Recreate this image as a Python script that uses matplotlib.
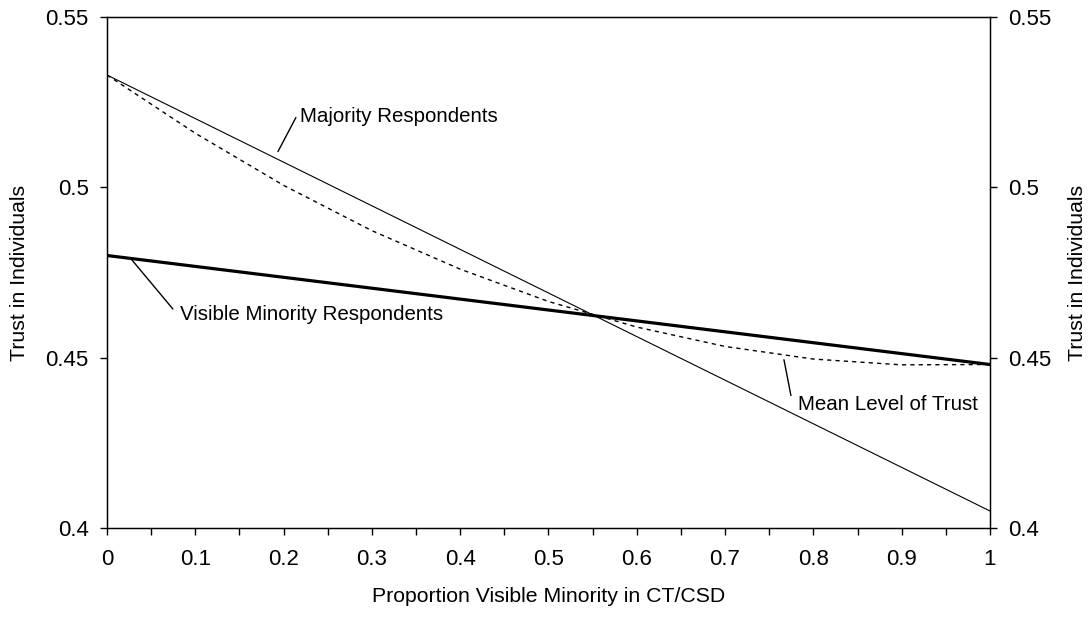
import matplotlib
matplotlib.use("Agg")
import matplotlib.pyplot as plt
from matplotlib.ticker import MultipleLocator, FormatStrFormatter

plt.rcParams["font.family"] = ["Liberation Sans", "DejaVu Sans"]

# proportion visible minority
prop = [0.0, 0.1, 0.2, 0.3, 0.4, 0.5, 0.6, 0.7, 0.8, 0.9, 1.0]

# trust levels
majority = [0.533, 0.5202, 0.5074, 0.4946, 0.4818, 0.469, 0.4562, 0.4434, 0.4306, 0.4178, 0.405]
minority = [0.480, 0.4768, 0.4736, 0.4704, 0.4672, 0.464, 0.4608, 0.4576, 0.4544, 0.4512, 0.448]
mean_trust = [0.533, 0.5159, 0.5006, 0.4873, 0.4760, 0.4665, 0.4590, 0.4533, 0.4496, 0.4479, 0.448]

fig = plt.figure(figsize=(10.91, 6.17), dpi=100)
ax = fig.add_axes([0.098, 0.1442, 0.8094, 0.8282])

ax.plot(prop, majority, color="black", lw=0.8)
ax.plot(prop, minority, color="black", lw=2.3)
ax.plot(prop, mean_trust, color="black", lw=1.0, linestyle=(0, (3, 3)))

ax.set_xlim(0, 1)
ax.set_ylim(0.4, 0.55)
ax.xaxis.set_major_locator(MultipleLocator(0.1))
ax.xaxis.set_minor_locator(MultipleLocator(0.05))
ax.xaxis.set_major_formatter(FormatStrFormatter("%g"))
ax.yaxis.set_major_locator(MultipleLocator(0.05))
ax.yaxis.set_major_formatter(FormatStrFormatter("%g"))
ax.tick_params(axis="both", which="both", direction="out", length=5, width=1, labelsize=16)
ax.tick_params(axis="x", which="both", pad=10)
ax.tick_params(axis="y", pad=8)
for sp in ax.spines.values():
    sp.set_linewidth(1.0)

ax.set_xlabel("Proportion Visible Minority in CT/CSD", fontsize=15.3, labelpad=12)
ax.set_ylabel("Trust in Individuals", fontsize=15.3, labelpad=12)

ax2 = ax.twinx()
ax2.set_ylim(0.4, 0.55)
ax2.yaxis.set_major_locator(MultipleLocator(0.05))
ax2.yaxis.set_major_formatter(FormatStrFormatter("%g"))
ax2.tick_params(axis="y", direction="out", length=5, width=1, labelsize=16, pad=8)
ax2.set_ylabel("Trust in Individuals", fontsize=15.3, labelpad=12)

# callouts
lead = dict(arrowstyle="-", color="black", lw=1.0, shrinkA=0, shrinkB=0)
ax.annotate("", xy=(0.1937, 0.5105), xytext=(0.214, 0.5205), arrowprops=lead)
ax.text(0.2186, 0.5208, "Majority Respondents", fontsize=14.8, va="center", ha="left")

ax.annotate("", xy=(0.0283, 0.4787), xytext=(0.0747, 0.4643), arrowprops=lead)
ax.text(0.0827, 0.4627, "Visible Minority Respondents", fontsize=14.8, va="center", ha="left")

ax.annotate("", xy=(0.7667, 0.4494), xytext=(0.7746, 0.4389), arrowprops=lead)
ax.text(0.7826, 0.4363, "Mean Level of Trust", fontsize=14.8, va="center", ha="left")

fig.savefig("out.png", dpi=100)
